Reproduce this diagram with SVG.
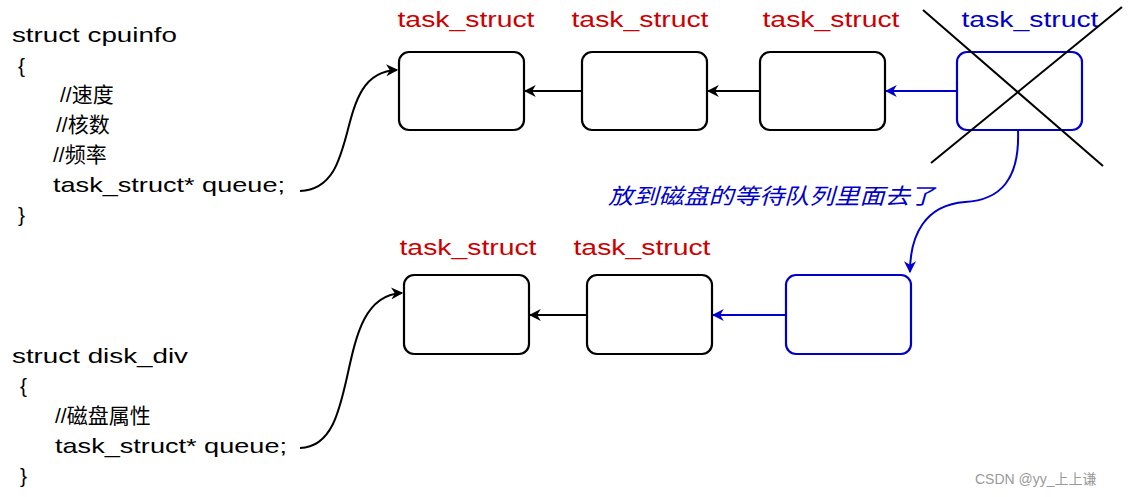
<svg xmlns="http://www.w3.org/2000/svg" width="1134" height="497" viewBox="0 0 1134 497">
<style>
text{font-family:"Liberation Sans","Noto Sans CJK SC",sans-serif;}
.code{font-size:21px;fill:#000;}
.lbl{font-size:22px;fill:#cc0000;}
.box{fill:#fff;stroke:#000;stroke-width:2.2;}
.bbox{fill:#fff;stroke:#0000cc;stroke-width:2.2;}
.k{fill:none;stroke:#000;stroke-width:2;}
.b{fill:none;stroke:#0000cc;stroke-width:2;}
</style>
<defs>
<marker id="ak" viewBox="0 0 10 10" refX="9" refY="5" markerWidth="12" markerHeight="12" markerUnits="userSpaceOnUse" orient="auto"><path d="M0,0 L10,5 L0,10 L3,5 z" fill="#000"/></marker>
<marker id="ab" viewBox="0 0 10 10" refX="9" refY="5" markerWidth="12" markerHeight="12" markerUnits="userSpaceOnUse" orient="auto"><path d="M0,0 L10,5 L0,10 L3,5 z" fill="#0000cc"/></marker>
</defs>
<rect width="1134" height="497" fill="#fff"/>

<g id="cpuinfo">
<text class="code" x="12" y="42" textLength="165" lengthAdjust="spacingAndGlyphs">struct cpuinfo</text>
<text class="code" x="18" y="73">{</text>
<text class="code" x="60" y="102">//速度</text>
<text class="code" x="56" y="132">//核数</text>
<text class="code" x="53" y="162">//频率</text>
<text class="code" x="53" y="192" textLength="232" lengthAdjust="spacingAndGlyphs">task_struct* queue;</text>
<text class="code" x="18" y="222">}</text>
</g>

<g id="disk_div">
<text class="code" x="12" y="363" textLength="176" lengthAdjust="spacingAndGlyphs">struct disk_div</text>
<text class="code" x="20" y="393">{</text>
<text class="code" x="55" y="423">//磁盘属性</text>
<text class="code" x="55" y="453" textLength="232" lengthAdjust="spacingAndGlyphs">task_struct* queue;</text>
<text class="code" x="20" y="483">}</text>
</g>

<g id="t1"><text class="lbl" x="466" y="27" text-anchor="middle" textLength="137" lengthAdjust="spacingAndGlyphs">task_struct</text><rect class="box" x="399" y="52" width="125" height="78" rx="10"/></g>
<g id="t2"><text class="lbl" x="640" y="27" text-anchor="middle" textLength="137" lengthAdjust="spacingAndGlyphs">task_struct</text><rect class="box" x="582" y="52" width="125" height="78" rx="10"/></g>
<g id="t3"><text class="lbl" x="831" y="27" text-anchor="middle" textLength="137" lengthAdjust="spacingAndGlyphs">task_struct</text><rect class="box" x="760" y="52" width="125" height="78" rx="10"/></g>
<g id="t4"><text class="lbl" x="1030" y="27" text-anchor="middle" textLength="137" lengthAdjust="spacingAndGlyphs" style="fill:#0000cc">task_struct</text><rect class="bbox" x="957" y="52" width="125" height="78" rx="10"/>
<line class="k" x1="923" y1="10" x2="1103" y2="166"/>
<line class="k" x1="1122" y1="7" x2="931" y2="163"/>
</g>

<g id="b1"><text class="lbl" x="468" y="255" text-anchor="middle" textLength="137" lengthAdjust="spacingAndGlyphs">task_struct</text><rect class="box" x="404" y="275" width="125" height="79" rx="10"/></g>
<g id="b2"><text class="lbl" x="642" y="255" text-anchor="middle" textLength="137" lengthAdjust="spacingAndGlyphs">task_struct</text><rect class="box" x="587" y="275" width="125" height="79" rx="10"/></g>
<g id="b3"><rect class="bbox" x="786" y="275" width="125" height="79" rx="10"/></g>

<g id="note"><text x="608" y="204" font-size="22" font-style="italic" fill="#0000cc" textLength="327" lengthAdjust="spacingAndGlyphs">放到磁盘的等待队列里面去了</text></g>

<g id="connectors">
<path class="k" d="M300,191 C365,188 330,72 397,70" marker-end="url(#ak)"/>
<path class="k" d="M300,448 C365,446 330,296 402,293" marker-end="url(#ak)"/>
<line class="k" x1="582" y1="91" x2="525" y2="91" marker-end="url(#ak)"/>
<line class="k" x1="760" y1="91" x2="708" y2="91" marker-end="url(#ak)"/>
<line class="b" x1="957" y1="91" x2="886" y2="91" marker-end="url(#ab)"/>
<line class="k" x1="587" y1="315" x2="530" y2="315" marker-end="url(#ak)"/>
<line class="b" x1="786" y1="315" x2="713" y2="315" marker-end="url(#ab)"/>
<path class="b" d="M1018,130 C1020,180 1000,200 965,202 C925,205 910,235 910,272" marker-end="url(#ab)"/>
</g>

<text x="975" y="484" font-size="14" fill="#999">CSDN @yy_上上谦</text>
</svg>
